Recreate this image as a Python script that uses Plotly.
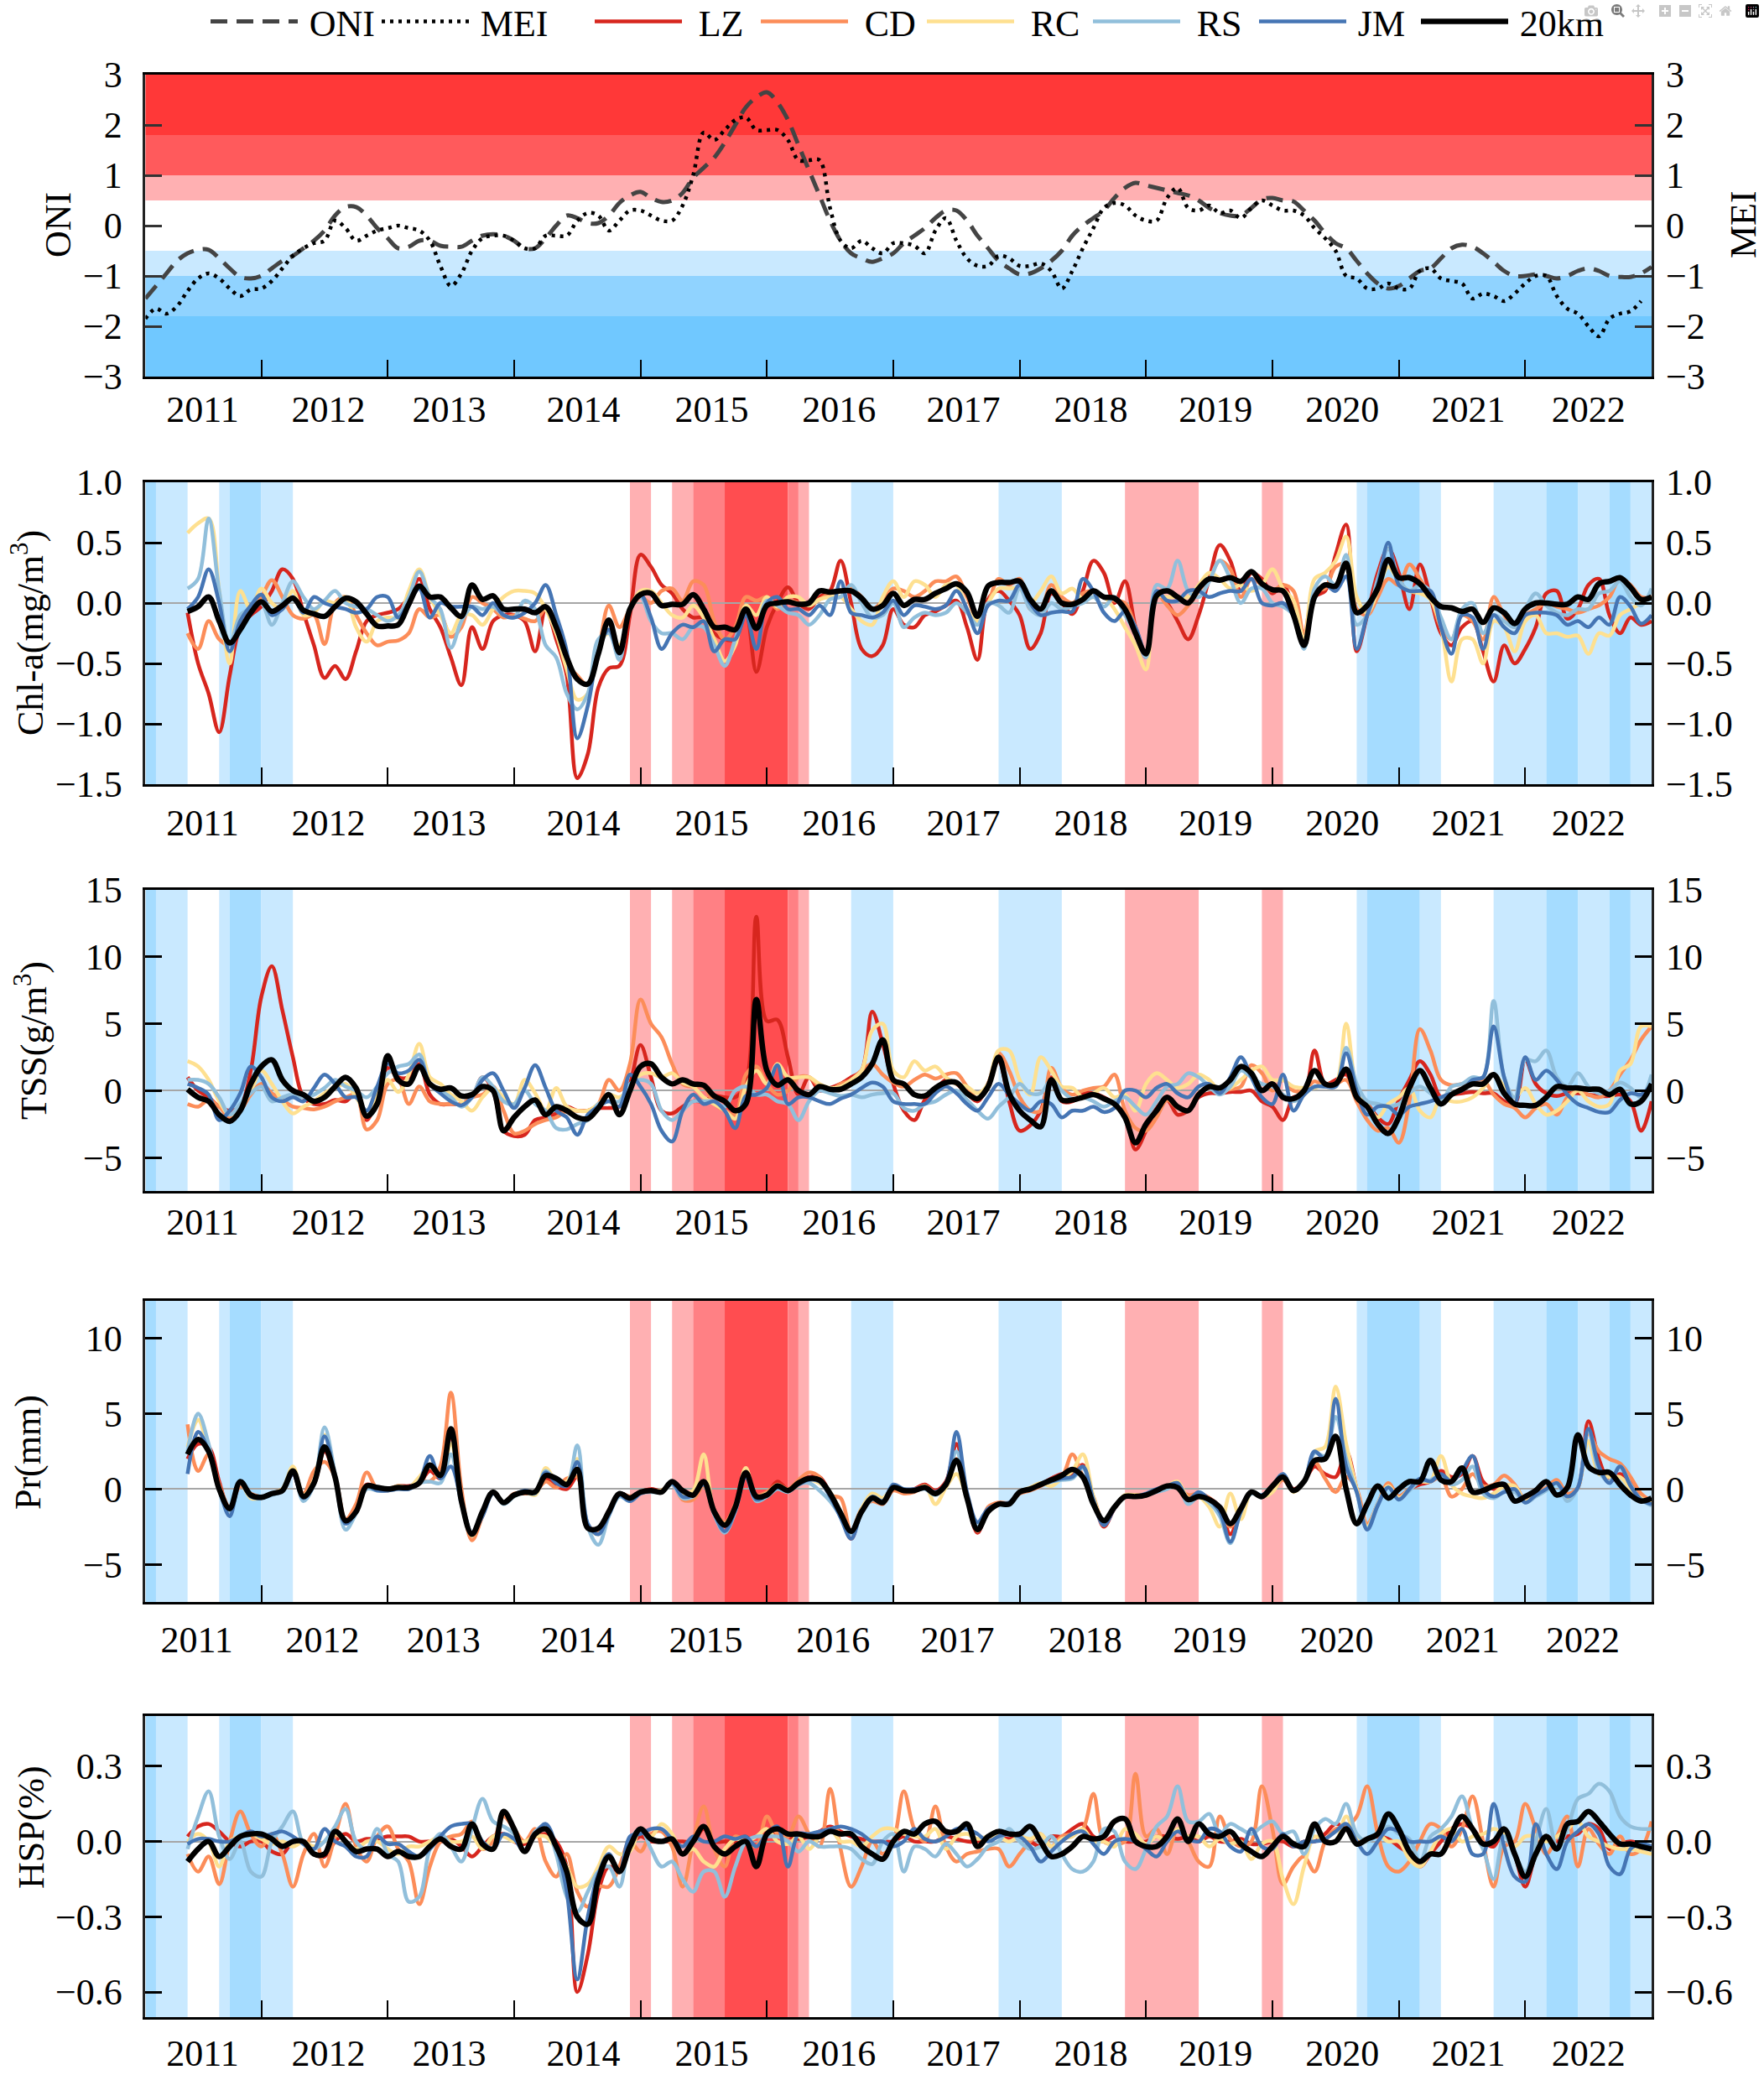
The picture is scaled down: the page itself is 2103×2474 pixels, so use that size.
import numpy as np
import plotly.graph_objects as go

# monthly series start Jun 2011 (month 5) and run to Jan 2023 (month 144)
months = np.arange(5, 145)
oni_months = np.arange(1, 145)
mei_months = np.arange(1, 144)

oni = [-1.45, -1.2, -0.95, -0.7, -0.55, -0.48, -0.48, -0.65, -0.85, -1.02, -1.05,
       -1.0, -0.85, -0.7, -0.6, -0.45, -0.3, -0.1, 0.2, 0.37, 0.37, 0.2, -0.05,
       -0.25, -0.45, -0.42, -0.3, -0.3, -0.4, -0.42, -0.42, -0.3, -0.2, -0.17, -0.2,
       -0.3, -0.45, -0.45, -0.25, 0.0, 0.2, 0.15, 0.05, 0.05, 0.2, 0.45, 0.6,
       0.67, 0.55, 0.47, 0.5, 0.65, 0.95, 1.15, 1.35, 1.65, 2.0, 2.35, 2.55,
       2.65, 2.45, 2.1, 1.6, 1.1, 0.6, 0.1, -0.3, -0.55, -0.65, -0.72, -0.65,
       -0.55, -0.35, -0.2, -0.05, 0.15, 0.3, 0.3, 0.1, -0.2, -0.45, -0.7, -0.85,
       -0.97, -0.95, -0.85, -0.7, -0.5, -0.2, 0.0, 0.15, 0.3, 0.55, 0.75, 0.85,
       0.8, 0.75, 0.7, 0.65, 0.6, 0.5, 0.35, 0.25, 0.2, 0.2, 0.35, 0.52,
       0.55, 0.5, 0.48, 0.3, 0.1, -0.15, -0.35, -0.45, -0.7, -0.95, -1.15, -1.25,
       -1.2, -1.05, -0.9, -0.85, -0.65, -0.45, -0.38, -0.42, -0.55, -0.72, -0.9, -1.0,
       -1.0, -0.97, -1.0, -1.05, -1.0, -0.9, -0.85, -0.9, -1.0, -1.02, -1.02, -0.95,
       -0.82]
mei = [-1.85, -1.65, -1.75, -1.6, -1.3, -1.05, -0.95, -1.05, -1.25, -1.4, -1.27,
       -1.25, -1.1, -0.85, -0.6, -0.45, -0.35, -0.3, 0.1, -0.05, -0.3, -0.2, -0.1,
       -0.05, 0.0, -0.05, -0.1, -0.3, -0.8, -1.2, -0.95, -0.5, -0.25, -0.2, -0.2,
       -0.3, -0.45, -0.45, -0.2, -0.2, -0.2, 0.1, 0.25, 0.2, -0.1, 0.1, 0.3,
       0.3, 0.2, 0.1, 0.1, 0.4, 1.0, 1.85, 1.7, 1.9, 2.1, 2.15, 1.9,
       1.9, 1.9, 1.7, 1.3, 1.3, 1.3, 0.35, -0.3, -0.45, -0.3, -0.45, -0.55,
       -0.35, -0.35, -0.4, -0.55, -0.1, 0.15, -0.3, -0.65, -0.8, -0.8, -0.6, -0.65,
       -0.8, -0.8, -0.75, -0.9, -1.25, -0.9, -0.45, -0.05, 0.35, 0.45, 0.4, 0.2,
       0.1, 0.1, 0.55, 0.75, 0.35, 0.3, 0.4, 0.25, 0.3, 0.15, 0.35, 0.5,
       0.4, 0.3, 0.3, 0.2, -0.05, -0.25, -0.5, -1.0, -1.05, -1.25, -1.25, -1.15,
       -1.25, -1.25, -0.9, -0.85, -1.05, -1.1, -1.15, -1.45, -1.35, -1.4, -1.5, -1.35,
       -1.15, -1.0, -1.0, -1.4, -1.65, -1.75, -2.0, -2.2, -1.85, -1.75, -1.7, -1.5]

chl_lz = [-0.08, -0.5, -0.75, -1.07, -0.6, -0.2, -0.1,
          -0.03, 0.1, 0.28, 0.2, -0.08, -0.35, -0.62, -0.52, -0.63, -0.4, -0.15, -0.1,
          -0.08, -0.05, 0.05, 0.2, -0.05, -0.2, -0.45, -0.68, -0.2, -0.38, -0.15, -0.1,
          -0.1, -0.15, -0.4, -0.05, -0.3, -0.6, -1.45, -1.25, -0.7, -0.54, -0.52, -0.1,
          0.4, 0.3, 0.15, 0.08, -0.05, -0.12, -0.12, -0.25, -0.3, -0.3, -0.08, -0.57,
          -0.2, 0.0, 0.13, 0.0, -0.05, 0.05, 0.1, 0.35, 0.0, -0.38, -0.44, -0.35,
          -0.05, -0.18, -0.2, -0.1, -0.07, -0.02, 0.02, -0.2, -0.47, 0.03, 0.1, 0.02,
          -0.1, -0.38, -0.25, 0.08, 0.0, -0.09, 0.1, 0.35, 0.25, 0.0, 0.18, -0.2,
          -0.45, 0.08, 0.0, -0.15, -0.3, -0.1, 0.2, 0.48, 0.35, 0.1, 0.25, 0.2,
          0.08, 0.15, -0.05, -0.3, 0.05, 0.1, 0.4, 0.65, -0.4, -0.1, 0.25, 0.45,
          0.25, -0.05, 0.32, 0.05, -0.25, -0.35, -0.2, -0.15, -0.4, -0.65, -0.35, -0.5,
          -0.38, -0.2, 0.08, 0.1, -0.13, -0.05, 0.15, 0.2, -0.1, -0.25, -0.12, -0.18,
          -0.15]
chl_cd = [-0.25, -0.38, -0.15, -0.3, -0.35, -0.15, -0.05,
          0.05, 0.19, 0.05, -0.1, -0.13, -0.1, -0.34, 0.0, 0.05, -0.1, -0.25, -0.35,
          -0.32, -0.31, -0.25, -0.05, -0.12, -0.1, -0.28, -0.2, 0.05, 0.0, -0.05, -0.12,
          -0.1, -0.13, -0.15, -0.05, -0.2, -0.5, -0.6, -0.68, -0.4, -0.02, -0.2, -0.05,
          0.05, 0.0, 0.1, 0.12, 0.02, 0.18, 0.15, -0.15, -0.3, -0.2, 0.05, 0.02,
          0.05, -0.05, 0.02, 0.0, -0.02, 0.03, 0.08, 0.1, 0.12, 0.05, -0.05, 0.02,
          0.12, 0.1, 0.05, 0.1, 0.18, 0.18, 0.22, 0.05, -0.12, 0.0, 0.2, 0.15,
          0.2, -0.05, -0.05, 0.15, 0.05, 0.0, 0.08, 0.1, 0.05, 0.02, 0.0, -0.2,
          -0.42, 0.08, -0.02, -0.1, -0.02, 0.1, 0.2, 0.35, 0.28, 0.05, 0.2, 0.15,
          0.1, 0.15, 0.1, -0.25, 0.1, 0.12, 0.3, 0.32, -0.05, -0.1, 0.05, 0.2,
          0.15, 0.32, 0.2, 0.05, -0.2, -0.3, -0.1, -0.15, -0.3, 0.05, -0.1, -0.2,
          -0.1, -0.05, 0.0, -0.03, -0.05, -0.08, -0.05, -0.02, 0.05, 0.2, 0.15, 0.05,
          0.05]
chl_rc = [0.58, 0.66, 0.7, 0.1, -0.5, 0.1, -0.05,
          0.12, 0.0, -0.05, 0.1, -0.1, -0.08, 0.02, 0.0, 0.05, -0.2, -0.32, -0.15,
          -0.12, -0.12, 0.1, 0.28, 0.05, -0.1, -0.25, -0.1, -0.1, -0.18, -0.05, 0.05,
          0.1, 0.1, 0.08, -0.05, -0.25, -0.55, -0.8, -0.75, -0.35, -0.25, -0.35, -0.05,
          0.1, 0.1, 0.0, -0.1, -0.12, -0.02, -0.12, -0.3, -0.48, -0.35, -0.02, -0.1,
          0.05, -0.03, 0.05, 0.05, -0.02, 0.03, 0.05, 0.05, -0.05, -0.15, -0.18, 0.05,
          0.18, 0.05, 0.18, 0.15, 0.05, 0.15, 0.15, -0.05, -0.15, 0.0, 0.12, 0.12,
          0.12, 0.0, 0.1, 0.22, 0.08, 0.12, 0.03, 0.05, 0.05, -0.05, -0.2, -0.35,
          -0.55, 0.05, 0.05, 0.05, 0.05, 0.15, 0.25, 0.2, 0.12, 0.15, 0.1, 0.15,
          0.28, 0.12, 0.02, -0.3, 0.2, 0.25, 0.35, 0.55, 0.05, -0.08, 0.1, 0.3,
          0.18, 0.1, 0.08, 0.03, -0.2, -0.65, -0.3, -0.3, -0.5, -0.15, -0.2, -0.4,
          -0.15, -0.1, -0.25, -0.25, -0.28, -0.27, -0.42, -0.25, -0.27, -0.1, -0.05, 0.0,
          0.05]
chl_rs = [0.12, 0.2, 0.7, 0.1, -0.35, -0.1, -0.05,
          0.0, -0.18, 0.0, 0.18, 0.05, -0.05, 0.02, 0.1, 0.0, -0.03, -0.05, -0.1,
          -0.15, -0.1, 0.05, 0.26, 0.05, -0.05, -0.37, -0.15, -0.03, -0.05, -0.03, -0.1,
          -0.12, 0.02, -0.05, -0.35, -0.45, -0.75, -0.88, -0.75, -0.3, -0.25, -0.47, -0.05,
          0.05, -0.15, -0.25, -0.25, -0.3, -0.2, -0.2, -0.35, -0.52, -0.3, -0.05, -0.2,
          0.02, -0.02, -0.08, -0.1, -0.18, -0.1, 0.03, 0.05, 0.15, 0.0, -0.12, -0.1,
          0.0, -0.2, -0.12, -0.08, -0.1, -0.08, 0.0, -0.08, -0.18, 0.0, -0.02, -0.08,
          0.12, -0.05, -0.1, 0.0, -0.05, -0.03, 0.0, 0.05, -0.03, 0.05, -0.1, -0.25,
          -0.45, 0.15, 0.12, 0.35, 0.1, 0.05, 0.18, 0.35, 0.2, 0.0, 0.12, 0.12,
          0.0, -0.03, -0.1, -0.38, 0.12, 0.22, 0.15, 0.4, -0.18, -0.1, 0.2, 0.45,
          0.2, 0.1, 0.15, 0.1, -0.12, -0.3, -0.05, 0.0, -0.25, -0.1, -0.15, -0.2,
          -0.05, 0.08, -0.02, -0.08, -0.1, -0.05, -0.05, 0.08, 0.1, 0.18, 0.05, -0.02,
          0.12]
chl_jm = [-0.05, 0.05, 0.28, 0.0, -0.4, -0.15, -0.02,
          0.07, -0.1, -0.05, 0.05, -0.08, 0.05, 0.0, -0.03, -0.05, -0.08, -0.05, 0.05,
          0.05, -0.12, 0.0, 0.12, -0.12, 0.0, -0.03, -0.03, -0.03, -0.1, 0.0, -0.1,
          -0.12, -0.08, 0.0, 0.15, -0.1, -0.4, -1.12, -0.85, -0.4, -0.22, -0.42, -0.05,
          0.07, -0.12, -0.38, -0.25, -0.18, -0.2, -0.15, -0.4, -0.3, -0.3, -0.1, -0.38,
          0.0, 0.05, -0.05, -0.05, -0.1, -0.02, -0.1, 0.18, -0.08, -0.1, -0.12, -0.08,
          0.02, -0.1, -0.02, -0.03, -0.05, -0.02, 0.1, -0.05, -0.25, -0.02, 0.02, 0.02,
          0.15, 0.0, -0.1, -0.08, -0.07, -0.07, 0.2, 0.1, -0.08, -0.15, -0.07, -0.2,
          -0.42, 0.1, 0.02, 0.02, 0.1, 0.1, 0.05, 0.08, 0.1, 0.1, 0.2, 0.0,
          -0.02, 0.0, -0.1, -0.33, 0.05, 0.15, 0.1, 0.22, -0.38, -0.1, 0.15, 0.5,
          0.15, 0.1, 0.1, 0.1, -0.2, -0.42, -0.1, -0.12, -0.38, -0.1, -0.2, -0.25,
          -0.1, -0.08, -0.08, -0.1, -0.18, -0.15, -0.2, -0.12, -0.18, 0.05, -0.03, -0.17,
          -0.1]
chl_20km = [-0.07, -0.03, 0.05, -0.15, -0.33, -0.22, -0.08,
            0.01, -0.07, -0.02, 0.04, -0.06, -0.09, -0.11, -0.03, 0.04, 0.01, -0.09, -0.19,
            -0.19, -0.18, -0.01, 0.14, 0.05, 0.05, -0.04, -0.11, 0.15, 0.03, 0.06, -0.05,
            -0.05, -0.05, -0.08, -0.03, -0.2, -0.45, -0.63, -0.67, -0.42, -0.14, -0.41, -0.05,
            0.07, 0.08, -0.02, -0.01, -0.01, 0.07, -0.05, -0.2, -0.2, -0.22, -0.05, -0.21,
            -0.02, 0.0, 0.01, -0.01, 0.0, 0.1, 0.09, 0.1, 0.1, 0.04, -0.05, -0.02,
            0.08, -0.02, 0.03, 0.03, 0.08, 0.12, 0.16, 0.09, -0.11, 0.14, 0.17, 0.17,
            0.18, 0.03, -0.05, 0.1, 0.0, -0.01, 0.03, 0.1, 0.05, 0.04, -0.05, -0.25,
            -0.42, 0.06, 0.1, 0.05, 0.0, 0.12, 0.2, 0.19, 0.21, 0.18, 0.26, 0.16,
            0.11, 0.1, -0.1, -0.35, 0.05, 0.15, 0.14, 0.33, -0.08, -0.02, 0.12, 0.36,
            0.21, 0.21, 0.16, 0.05, -0.03, -0.04, -0.07, -0.05, -0.16, -0.04, -0.08, -0.17,
            -0.05, 0.0, 0.0, -0.01, -0.01, 0.05, 0.03, 0.16, 0.18, 0.21, 0.13, 0.03,
            0.05]

tss_lz = [1.0, 0.0, -0.5, -1.2, -1.5, -1.2, 1.5,
          7.0, 9.3, 6.0, 2.5, -0.5, -1.0, -1.0, -0.7, -0.8, -0.2, -2.2, -0.5,
          1.7, 1.0, 1.0, 2.0, -0.3, -1.0, -1.0, -1.0, -0.5, 1.0, 0.0, -3.0,
          -3.4, -3.3, -2.2, -2.0, -1.7, -1.2, -1.5, -1.5, -1.3, -1.3, -1.2, 0.5,
          3.4, 1.0, -1.5, -1.7, -1.2, -0.8, -0.8, -0.4, -0.5, -0.5, 0.5, 13.0,
          5.2, 5.3, 2.5, -0.3, 1.0, 0.0, 0.2, 0.5, 1.0, 1.5, 5.9, 3.5,
          0.5, -1.5, -2.2, -0.7, 0.0, 0.8, 0.5, -0.2, -0.8, 0.5, 2.2, -0.8,
          -3.0, -2.6, -1.5, 1.0, -0.8, -0.8, -0.2, -0.2, -0.5, -1.0, -1.8, -4.4,
          -3.0, -1.3, -0.7, -1.8, -1.5, -0.5, -0.2, -0.2, -0.1, -0.1, 0.0, -0.8,
          -1.2, -2.2, -0.5, -0.3, 3.0, 0.5, 0.8, 1.2, -0.5, -1.0, -2.0, -2.5,
          -0.7, 0.8, 2.2, 1.2, -0.5, -0.3, -0.2, -0.1, -0.2, -0.2, -0.8, -1.0,
          2.3, 0.5, -0.2, -0.4, -0.2, -0.2, -0.3, -0.4, -0.4, -0.3, -0.8, -3.0,
          -0.8]
tss_cd = [-1.0, -1.2, -0.7, -1.2, -2.0, -1.5, -0.3,
          0.5, -0.2, -0.7, -1.2, -1.3, -1.4, -1.2, -0.8, -0.5, -0.3, -2.9, -2.2,
          0.5, 0.8, -1.0, 0.3, -0.8, -1.0, -1.0, -1.0, -0.5, -0.3, 0.3, -1.5,
          -3.2, -3.0, -2.5, -2.2, -2.0, -1.5, -1.5, -1.5, -1.0, 0.8, 0.0, 2.0,
          6.8, 5.0, 4.0, 2.0, 0.5, 0.3, 0.3, -1.0, -1.5, -1.8, 1.2, 1.8,
          0.5, -0.3, 0.0, 1.0, 1.0, 0.3, 0.0, 0.5, 0.8, 1.5, 2.0, 1.2,
          0.6, 0.3, 0.8, 1.2, 0.9, 1.2, 1.3, 0.3, -0.6, 0.5, 2.8, 1.5,
          -0.5, -1.5, -1.5, 1.7, 0.2, -0.3, 0.0, 0.2, 0.3, 1.2, -1.5, -2.8,
          -3.0, -2.0, -0.7, -1.3, -1.5, -0.2, 0.2, 0.0, 0.1, 0.3, 1.9, 1.3,
          0.0, 0.8, 0.0, 0.0, 0.7, 0.3, 0.5, 0.8, -0.8, -2.2, -3.0, -2.8,
          -3.9, -0.8, 4.6, 3.0, 0.8, 0.4, 0.5, 0.7, 0.8, -0.3, -1.0, -1.3,
          -2.0, -1.3, -1.0, -1.8, -0.5, 0.0, -0.3, -0.5, 0.0, 1.2, 2.3, 3.8,
          4.8]
tss_rc = [2.2, 1.8, 0.8, -0.8, -1.8, -1.3, 0.0,
          1.5, 0.5, -0.8, -1.7, -1.2, -0.8, -0.2, 0.2, 0.5, -0.5, -1.5, -0.3,
          0.8, -0.1, 1.2, 3.5, 1.0, 0.5, -0.3, -0.8, -1.5, -0.5, 0.2, -0.5,
          -1.0, 0.8, -0.2, -1.5, 0.2, -1.2, -1.5, -1.5, -1.0, -0.3, -0.5, 0.2,
          1.2, 1.3, 1.0, 1.3, 0.6, 0.3, -0.5, -1.0, -1.5, -2.1, 0.3, 1.5,
          0.5, 2.0, 1.0, 1.0, 1.0, 0.5, 0.2, 0.3, 0.8, 1.5, 4.5, 5.0,
          1.5, 1.0, 2.2, 1.5, 1.8, 1.0, 0.5, 0.3, -0.2, 0.5, 3.0, 3.0,
          0.8, -0.3, 2.5, 1.5, 0.3, 0.2, -0.5, -0.2, 0.2, -0.5, -0.3, -1.5,
          0.5, 1.3, 0.8, 0.2, 0.5, 1.2, 0.8, 0.0, 0.2, 0.8, 1.5, 1.8,
          0.8, 0.8, 0.3, 0.2, 0.2, 0.5, 0.5, 5.0, 0.2, -1.0, -2.0, -1.0,
          -0.5, 0.2, -1.5, -2.0, -0.5, -0.8, -0.8, -0.5, 0.2, 1.2, 0.3, -0.5,
          0.2, -1.0, -1.8, -1.5, -0.8, 0.0, -0.8, -1.2, -1.0, 1.5, 2.0, 4.8,
          4.8]
tss_rs = [0.8, 0.8, 0.5, -0.5, -1.8, -1.0, -0.2,
          0.3, -0.8, -0.5, -0.3, -0.5, -0.3, 0.2, 0.8, 0.3, 0.0, -0.5, 0.3,
          1.3, 1.8, 2.0, 2.7, 0.5, 0.0, -0.5, -1.2, -0.5, 1.0, 0.3, -0.8,
          -1.0, 0.0, -1.0, -1.5, -2.8, -2.9, -2.5, -2.2, -1.0, -0.8, -0.8, 0.5,
          0.8, 0.5, -1.5, -2.2, -1.5, -0.8, -0.8, -0.8, -1.2, 0.0, 0.3, -0.3,
          -0.3, -0.8, -1.0, -2.2, -0.8, 0.0, -0.2, -0.4, -0.3, -0.5, -0.3, -0.2,
          -0.2, -1.3, -1.5, -1.0, -0.8, -0.3, 0.0, -0.7, -1.5, -2.1, -1.2, -0.5,
          0.5, -0.2, -0.2, 0.8, 0.0, -0.6, -0.5, -0.8, -1.2, -0.8, -0.5, -1.2,
          -1.8, -0.8, 0.3, 0.5, 1.3, 1.0, 0.3, -0.3, 0.3, 1.5, 1.0, 0.5,
          0.3, -0.3, -0.8, -0.3, 0.3, 0.3, 0.3, 3.2, 0.5, -0.8, -1.0, -1.2,
          -1.0, -0.2, 0.3, -0.2, -0.8, 0.3, 0.5, 1.0, 1.0, 6.7, 1.0, -0.5,
          2.3, 2.2, 3.0, 1.0, 0.3, 1.3, 0.3, -0.2, 0.0, 0.6, 0.2, -0.5,
          1.2]
tss_jm = [0.5, 0.2, -0.3, -2.2, -1.5, -0.2, 1.8,
          1.0, -0.5, -0.8, -0.5, -0.8, 0.2, 1.2, 0.5, -0.5, -0.5, -1.5, 0.3,
          2.0, 1.3, 1.5, 2.3, 0.5, -0.2, -0.8, -1.1, -0.5, 0.8, 1.3, 0.0,
          -1.3, 0.2, 1.9, 0.2, -1.5, -2.0, -3.3, -1.8, -1.2, -0.8, -1.2, 1.2,
          0.3, -1.0, -3.0, -3.8, -1.5, -0.3, -1.0, -0.8, -1.5, -2.8, -0.4, -0.3,
          0.2, 1.9, -1.0, -0.5, -0.5, -0.8, -1.0, -0.6, -0.3, 0.2, 0.6, 0.3,
          -0.8, -1.0, -1.0, -1.0, -0.2, 0.3, -0.2, -1.0, -1.5, -0.5, 0.5, -0.3,
          -1.0, -1.5, -0.8, -1.0, -2.0, -1.5, -1.5, -1.2, -1.6, -1.3, 0.0, 0.0,
          -0.5, 0.2, 0.5, -0.2, -0.5, 0.3, 0.5, -0.2, 1.0, 2.5, 1.0, -0.5,
          -1.0, 1.2, -1.5, -0.3, 0.3, 0.3, 0.3, 2.8, 0.0, -1.8, -1.2, -1.2,
          -1.8, -1.2, -1.0, -0.8, -0.5, -0.2, 0.0, 0.8, 1.0, 4.8, 1.0, -1.0,
          2.5, 0.8, 1.5, 0.8, -0.3, -1.0, -1.3, -1.6, -1.6, -0.7, -0.2, -0.3,
          0.5]
tss_20km = [0.1, -0.5, -0.8, -1.8, -2.3, -1.5, 0.5,
            1.8, 2.3, 0.8, 0.0, -0.3, -0.8, -0.5, 0.3, 1.0, 0.2, -1.9, -1.0,
            2.6, 0.8, 0.5, 1.8, 0.5, 0.1, 0.2, -0.4, -0.3, 0.3, 0.0, -3.0,
            -2.0, -1.2, -0.7, -1.8, -1.2, -1.5, -2.0, -2.1, -1.3, -0.3, -1.8, 0.0,
            1.8, 2.0, 1.0, 0.5, 0.8, 0.5, 0.4, -0.4, -0.8, -1.5, -1.0, 6.8,
            1.5, 0.4, 0.8, 0.0, -0.3, 0.3, 0.1, 0.1, 0.5, 1.0, 2.0, 3.8,
            0.8, 0.5, -0.3, -0.4, 0.2, 0.6, 0.6, -0.2, -0.6, 0.3, 2.5, -0.2,
            -1.5, -2.2, -2.7, 0.8, -0.7, -0.7, -0.5, -0.3, -0.6, -1.0, -2.0, -3.9,
            -2.5, -1.5, -0.5, -1.2, -1.5, -0.3, 0.3, 0.2, 0.8, 1.8, 1.3, 0.0,
            0.5, -0.5, -0.6, 0.0, 1.5, 0.5, 0.5, 1.6, -0.5, -1.2, -2.5, -3.2,
            -2.0, 0.2, 1.5, 0.2, -1.0, -0.3, 0.1, 0.5, 0.5, 1.2, -0.2, -1.0,
            -1.1, -1.1, -0.5, 0.3, 0.2, 0.2, 0.1, 0.1, -0.3, 0.1, -1.0, -0.8,
            0.5]

pr_lz = [2.0, 3.0, 2.8, 0.5, -1.5, 0.4, -0.5,
         -0.6, -0.3, -0.1, 1.0, -0.5, 0.3, 2.5, 0.7, -2.1, -1.5, 0.3, 0.1,
         0.0, 0.2, 0.2, 0.4, 1.2, 0.7, 3.5, -0.9, -3.0, -1.5, -0.2, -0.9,
         -0.4, -0.2, -0.2, 0.7, 0.2, 0.0, 0.8, -2.4, -2.8, -1.4, -0.3, -0.6,
         -0.2, 0.0, -0.1, 0.4, -0.2, -0.4, 0.3, -1.5, -2.4, -1.2, 0.9, -0.5,
         -0.3, 0.5, 0.0, 0.5, 0.8, 0.8, -0.3, -1.7, -3.3, -1.4, -0.6, -0.8,
         0.1, -0.1, 0.0, 0.3, -0.1, 0.5, 3.0, -0.5, -2.9, -1.4, -1.0, -1.0,
         -0.2, 0.0, 0.3, 0.7, 1.0, 1.0, 1.6, -0.6, -2.5, -1.3, -0.5, -0.5,
         -0.4, -0.1, 0.2, 0.2, -0.6, -0.3, -0.6, -1.2, -3.0, -1.3, -0.2, -0.5,
         0.1, 0.8, 0.0, 0.5, 1.5, 1.0, 0.8, 2.5, 0.0, -2.5, -1.0, 0.2,
         -0.5, 0.0, 0.3, 0.5, 1.2, 0.8, 1.0, 2.2, 0.5, 0.0, 0.2, 0.2,
         -0.8, -0.4, 0.0, 0.5, -0.5, 0.1, 4.5, 2.0, 0.5, 1.0, 0.5, -0.4,
         -0.8]
pr_cd = [4.3, 1.2, 2.3, 0.3, -1.2, 0.2, -0.3,
         -0.5, -0.3, 0.0, 1.1, -0.3, 1.2, 1.8, 0.8, -2.0, -1.0, 1.1, 0.0,
         -0.1, 0.2, 0.1, 0.6, 0.5, 1.5, 6.4, 0.0, -3.4, -1.8, -0.2, -0.9,
         -0.3, -0.3, -0.2, 0.5, 0.1, 0.7, 0.8, -2.4, -2.8, -1.6, -0.3, -0.5,
         -0.3, -0.1, -0.1, 0.4, -0.7, -0.7, 0.2, -1.4, -2.2, -1.0, 0.8, -0.4,
         -0.2, 0.3, 0.0, 0.6, 1.1, 0.8, -0.4, -0.6, -2.8, -1.3, -0.8, -1.0,
         -0.1, -0.3, -0.2, 0.2, -0.2, 0.3, 2.0, -0.3, -2.8, -1.2, -0.9, -0.9,
         -0.3, -0.1, 0.2, 0.6, 0.8, 2.3, 0.8, -0.5, -2.3, -1.3, -0.5, -0.4,
         -0.4, -0.1, 0.2, 0.1, -0.4, -0.3, -0.6, -1.3, -2.5, -1.3, -0.2, -0.5,
         -0.1, 0.6, -0.1, 0.5, 1.8, 0.7, -0.2, 0.8, 0.0, -2.3, -1.0, 0.4,
         -0.5, 0.0, 0.5, 0.5, 0.8, -0.5, 0.0, 1.0, 0.2, 0.3, 0.9, 0.3,
         -0.7, -0.3, 0.1, 0.6, -0.3, 0.1, 3.7, 2.5, 2.0, 1.7, 0.8, -0.3,
         -0.8]
pr_rc = [2.8, 4.6, 2.5, 0.0, -1.4, 0.4, -0.6,
         -0.6, -0.3, 0.0, 1.5, -0.4, 0.6, 3.6, 0.8, -2.1, -1.5, 0.2, 0.1,
         0.0, 0.2, 0.1, 0.8, 1.5, 0.8, 3.0, -0.8, -3.1, -1.5, -0.2, -0.9,
         -0.5, -0.2, -0.4, 1.4, 0.5, 0.5, 2.0, -2.4, -3.0, -1.5, -0.4, -0.6,
         -0.2, -0.1, -0.1, 0.4, -0.3, -0.1, 2.3, -1.5, -2.3, -1.2, 1.4, -0.5,
         -0.3, 0.1, -0.1, 0.3, 0.6, 0.4, -0.2, -1.5, -2.8, -1.3, -0.3, -0.6,
         0.1, -0.1, -0.1, 0.2, -1.0, 0.1, 1.0, -0.6, -2.6, -1.4, -1.0, -1.0,
         -0.2, 0.1, 0.4, 0.2, 0.7, 1.2, 2.3, -0.5, -2.2, -1.2, -0.4, -0.4,
         -0.4, -0.1, 0.2, 0.5, -0.6, -0.5, -1.2, -2.5, -0.3, -2.0, -0.2, -0.5,
         -0.2, 0.8, -0.2, 0.5, 2.5, 2.8, 6.8, 3.0, 0.0, -2.5, -1.0, 0.2,
         -0.6, 0.0, 0.5, 0.5, 2.2, 0.3, -0.3, -0.5, -0.6, -0.3, 0.2, 0.2,
         -0.8, -0.4, 0.0, 0.4, -0.6, 0.1, 3.2, 1.0, 0.8, 0.8, 0.0, -0.6,
         -0.9]
pr_rs = [2.5, 5.0, 3.0, 0.0, -1.5, 0.4, -0.5,
         -0.6, -0.4, -0.1, 1.1, -0.8, 0.3, 4.1, 1.0, -2.7, -1.6, 0.0, -0.1,
         -0.1, 0.0, 0.0, 0.4, 0.5, 0.4, 2.3, -1.0, -3.0, -1.6, -0.2, -1.0,
         -0.5, -0.2, -0.3, 1.2, 0.5, 0.3, 2.9, -2.5, -3.7, -1.8, -0.5, -0.8,
         -0.3, -0.2, -0.2, 0.3, -0.6, -0.5, 0.4, -1.7, -2.9, -1.5, 0.9, -0.8,
         -0.5, 0.0, -0.2, 0.3, 0.4, -0.1, -0.8, -1.8, -3.0, -1.6, -0.7, -0.8,
         0.2, 0.0, -0.1, 0.0, -0.4, 0.3, 2.5, -0.5, -2.5, -1.4, -1.0, -1.0,
         -0.2, 0.0, 0.3, 0.5, 0.6, 0.7, 1.4, -0.8, -2.4, -1.2, -0.5, -0.5,
         -0.4, -0.2, 0.0, 0.3, -1.0, -0.5, -0.9, -1.8, -3.6, -1.5, -0.3, -0.5,
         0.2, 1.0, -0.1, 0.5, 2.4, 2.2, 4.8, 2.0, -0.2, -2.6, -1.0, 0.1,
         -0.7, -0.1, 0.5, 0.6, 0.9, 0.3, 0.6, 1.5, -0.3, -0.6, -0.2, -0.2,
         -0.9, -0.5, -0.1, 0.4, -0.8, 0.1, 3.9, 1.2, 0.5, 1.5, 0.3, -0.7,
         -1.1]
pr_jm = [1.0, 3.8, 2.5, 0.0, -1.8, 0.5, -0.5,
         -0.6, -0.3, -0.1, 1.0, -0.6, 0.3, 3.5, 0.8, -2.3, -1.5, 0.2, -0.1,
         -0.1, 0.0, 0.0, 0.5, 2.2, 0.7, 1.5, -0.8, -2.9, -1.8, -0.3, -0.9,
         -0.4, -0.1, -0.2, 1.1, 0.4, 0.2, 1.8, -2.3, -3.0, -1.7, -0.4, -0.8,
         -0.3, -0.1, -0.2, 0.4, -0.5, -0.4, 0.3, -1.6, -2.8, -1.4, 0.8, -0.7,
         -0.4, 0.1, -0.1, 0.3, 0.6, 0.5, -0.5, -1.9, -3.3, -1.5, -0.5, -0.8,
         0.3, 0.0, 0.0, 0.1, -0.2, 0.4, 3.8, -0.2, -2.2, -1.3, -1.0, -0.9,
         -0.2, 0.0, 0.3, 0.5, 0.7, 0.8, 1.5, -0.7, -2.4, -1.3, -0.5, -0.5,
         -0.3, 0.0, 0.2, 0.4, -0.7, -0.2, -0.7, -1.5, -3.5, -1.5, -0.2, -0.4,
         0.2, 1.0, -0.1, 0.5, 2.5, 2.0, 6.0, 1.5, -0.2, -2.7, -1.1, 0.1,
         -0.7, 0.0, 0.7, 0.5, 1.0, 0.5, 1.2, 2.2, 0.0, -0.5, -0.2, 0.0,
         -0.9, -0.4, 0.0, 0.4, -0.5, 0.1, 4.0, 1.5, 0.4, 1.5, 0.2, -0.7,
         -1.0]
pr_20km = [2.3, 3.3, 2.5, 0.0, -1.3, 0.5, -0.4,
           -0.55, -0.3, -0.1, 1.2, -0.5, 0.4, 2.8, 0.8, -2.1, -1.5, 0.2, 0.1,
           0.0, 0.1, 0.1, 0.4, 1.6, 0.9, 4.0, -0.8, -3.0, -1.5, -0.2, -0.9,
           -0.4, -0.2, -0.2, 0.9, 0.7, 0.3, 1.3, -2.6, -2.6, -1.5, -0.3, -0.6,
           -0.2, -0.1, -0.2, 0.5, -0.1, -0.4, 0.5, -1.5, -2.4, -1.2, 1.1, -0.5,
           -0.4, 0.2, -0.1, 0.4, 0.7, 0.6, -0.3, -1.6, -2.8, -1.5, -0.6, -0.9,
           0.1, -0.1, -0.1, 0.1, -0.3, 0.3, 1.9, -0.6, -2.7, -1.5, -1.0, -1.0,
           -0.2, 0.0, 0.3, 0.6, 0.9, 1.3, 0.8, -1.0, -2.1, -1.2, -0.5, -0.5,
           -0.4, -0.1, 0.2, 0.1, -0.7, -0.5, -0.7, -1.2, -2.3, -1.3, -0.2, -0.5,
           0.2, 0.8, -0.1, 0.5, 1.9, 2.0, 3.5, 0.0, -2.3, -1.0, 0.2, -0.6,
           0.0, 0.5, 0.5, 1.9, 0.6, 0.5, 1.4, -0.2, -0.1, 0.2, 0.3, -0.8,
           -0.5, -0.1, 0.5, -0.4, 0.1, 3.6, 1.5, 1.1, 1.1, 0.3, -0.4, -0.8,
           -0.6]

hsp_lz = [0.02, 0.06, 0.07, 0.04, 0.0, -0.02, 0.0,
          0.0, -0.04, -0.05, 0.0, 0.0, -0.05, -0.06, 0.0, 0.03, 0.0, 0.01, 0.01,
          0.02, 0.02, 0.02, 0.0, 0.0, 0.0, 0.01, -0.02, -0.06, -0.02, 0.02, 0.03,
          0.0, -0.01, 0.02, 0.03, 0.0, -0.1, -0.6, -0.45, -0.2, -0.1, -0.12, -0.02,
          0.02, 0.0, 0.0, 0.0, 0.0, 0.0, 0.05, 0.0, 0.0, 0.0, 0.02, -0.02,
          0.02, 0.03, 0.02, 0.01, 0.02, 0.04, 0.06, 0.04, 0.02, 0.01, 0.0, 0.0,
          0.0, 0.02, 0.0, 0.0, 0.0, 0.02, 0.01, 0.0, 0.0, 0.02, 0.02, 0.01,
          0.02, 0.0, -0.02, 0.02, 0.02, 0.05, 0.07, 0.02, 0.0, 0.02, 0.0, 0.0,
          0.0, 0.02, 0.02, 0.01, 0.02, 0.0, 0.02, 0.0, 0.0, 0.01, -0.01, -0.01,
          0.0, 0.0, -0.02, 0.0, 0.0, 0.03, 0.07, 0.05, 0.0, 0.01, 0.02, 0.01,
          -0.02, -0.05, -0.1, -0.05, 0.0, 0.05, 0.07, 0.05, 0.0, -0.02, 0.05, -0.05,
          -0.18, -0.05, 0.02, 0.0, 0.02, 0.03, 0.07, 0.05, -0.03, -0.01, 0.0, -0.01,
          -0.02]
hsp_cd = [-0.05, -0.12, -0.06, -0.17, 0.0, 0.12, 0.03,
          -0.02, 0.03, -0.05, -0.18, -0.05, 0.03, -0.1, 0.02, 0.15, -0.02, -0.08, 0.02,
          0.06, -0.03, -0.08, -0.25, -0.1, 0.0, 0.02, 0.03, 0.08, -0.03, 0.0, 0.1,
          0.05, 0.0, 0.05, -0.08, -0.14, -0.05, -0.2, -0.26, -0.18, -0.18, -0.1, 0.0,
          -0.04, 0.03, 0.04, -0.02, -0.18, 0.0, 0.14, -0.03, -0.1, 0.02, 0.0, -0.02,
          0.1, 0.03, 0.02, 0.1, 0.03, -0.02, 0.21, -0.03, -0.18, -0.1, 0.0, -0.05,
          0.0, 0.2, 0.05, 0.0, 0.14, -0.02, -0.08, -0.05, -0.04, -0.03, -0.03, -0.1,
          -0.05, 0.0, 0.03, -0.02, 0.02, 0.03, 0.05, 0.19, 0.0, -0.01, 0.0, 0.27,
          0.02, 0.05, -0.05, 0.05, 0.0, -0.08, -0.1, 0.1, 0.01, -0.02, 0.0, 0.22,
          0.05, -0.17, -0.1, -0.06, -0.12, 0.0, 0.05, 0.06, 0.1, 0.22, 0.03, -0.1,
          -0.12, -0.08, 0.0, 0.07, 0.05, -0.02, 0.05, 0.18, 0.0, -0.18, -0.02, 0.0,
          0.15, 0.05, -0.05, 0.02, 0.1, -0.1, 0.05, -0.01, -0.05, 0.02, -0.05, -0.03,
          0.08]
hsp_rc = [0.0, 0.03, 0.0, -0.1, 0.0, 0.02, 0.03,
          0.01, -0.01, 0.0, -0.02, 0.0, -0.02, 0.0, 0.03, 0.0, -0.03, 0.0, 0.0,
          -0.03, -0.05, -0.02, -0.02, 0.0, 0.02, 0.0, 0.0, 0.02, -0.03, 0.02, 0.02,
          0.0, 0.0, 0.02, 0.02, -0.03, -0.1, -0.18, -0.17, -0.1, -0.02, -0.05, -0.04,
          0.05, 0.02, 0.07, 0.03, -0.05, -0.03, -0.08, -0.1, -0.03, 0.01, 0.0, 0.02,
          0.05, 0.0, -0.01, 0.02, -0.03, 0.02, 0.05, 0.0, 0.0, -0.02, 0.02, 0.05,
          0.05, 0.03, 0.02, 0.02, 0.05, -0.03, 0.02, 0.03, 0.01, 0.02, 0.02, 0.0,
          0.02, 0.01, 0.03, -0.02, 0.01, 0.02, 0.05, 0.0, 0.0, -0.02, 0.05, 0.03,
          -0.01, 0.02, 0.0, 0.05, 0.02, 0.02, -0.02, 0.01, -0.01, 0.0, -0.07, -0.01,
          0.0, -0.15, -0.25, -0.1, 0.02, 0.0, 0.0, 0.1, 0.02, 0.0, 0.03, 0.0,
          0.0, -0.07, -0.1, -0.04, 0.03, 0.05, 0.0, 0.02, 0.03, 0.05, 0.03, -0.02,
          0.02, 0.02, 0.0, 0.02, 0.05, 0.08, 0.02, 0.0, -0.02, -0.03, -0.03, -0.04,
          -0.05]
hsp_rs = [-0.03, 0.1, 0.2, 0.02, -0.07, 0.0, -0.12,
          -0.14, 0.0, 0.06, 0.12, -0.01, -0.03, 0.0, 0.06, 0.13, 0.0, -0.03, 0.05,
          -0.05, -0.08, -0.24, -0.22, -0.03, 0.03, -0.02, -0.08, 0.05, 0.17, 0.08, 0.06,
          0.03, -0.04, 0.04, 0.06, -0.05, -0.22, -0.28, -0.2, -0.12, -0.1, -0.18, 0.0,
          0.05, -0.03, -0.1, -0.08, -0.15, -0.2, -0.12, -0.12, -0.22, -0.1, 0.0, 0.02,
          0.02, 0.02, 0.0, -0.04, 0.0, -0.02, -0.02, -0.02, -0.03, -0.07, -0.09, 0.0,
          0.03, -0.12, -0.02, -0.03, -0.06, -0.01, -0.05, -0.1, -0.07, -0.02, 0.0, 0.05,
          0.0, -0.03, -0.02, 0.02, -0.05, -0.11, -0.12, -0.08, 0.05, 0.04, -0.08, -0.11,
          -0.03, 0.06, 0.1, 0.22, 0.08, 0.08, 0.11, 0.03, 0.07, 0.05, 0.03, 0.06,
          0.08, 0.03, 0.04, -0.05, 0.05, 0.09, 0.07, 0.15, 0.03, 0.0, 0.03, 0.06,
          0.03, 0.01, -0.08, 0.02, 0.05, 0.1, 0.18, 0.05, -0.03, -0.15, 0.02, -0.05,
          -0.12, 0.0, 0.13, -0.02, 0.05, 0.17, 0.19, 0.23, 0.2, 0.1, 0.06, 0.05,
          0.05]
hsp_jm = [-0.01, 0.01, 0.01, 0.0, 0.0, 0.02, 0.04,
          0.02, 0.03, 0.04, 0.02, -0.01, -0.03, 0.05, 0.0, -0.02, -0.06, -0.06, 0.02,
          -0.01, -0.01, -0.04, -0.06, -0.03, 0.02, 0.06, 0.07, 0.07, 0.0, -0.03, 0.03,
          0.01, -0.04, 0.03, 0.07, -0.02, -0.2, -0.55, -0.3, -0.13, -0.05, -0.12, 0.02,
          0.03, 0.05, 0.05, 0.01, -0.02, 0.02, 0.0, 0.0, 0.02, 0.01, 0.02, -0.02,
          0.03, 0.06, -0.1, 0.03, 0.03, 0.04, 0.05, 0.06, 0.05, 0.03, 0.0, 0.0,
          -0.02, 0.0, 0.05, 0.01, 0.0, 0.02, 0.05, 0.05, 0.03, 0.0, 0.02, 0.03,
          0.02, -0.02, -0.08, -0.04, 0.0, 0.03, 0.04, -0.01, -0.05, 0.0, 0.01, 0.0,
          -0.03, -0.06, 0.0, 0.04, 0.01, 0.0, 0.05, 0.04, -0.02, -0.04, 0.05, -0.02,
          -0.03, 0.03, -0.02, 0.0, 0.0, 0.01, 0.04, 0.07, 0.0, -0.05, 0.0, 0.05,
          0.04, 0.0, 0.0, 0.0, 0.02, 0.0, 0.05, -0.05, -0.05, 0.15, -0.02, -0.14,
          -0.16, 0.07, -0.05, -0.11, 0.0, 0.04, 0.07, 0.03, -0.1, -0.13, -0.03, -0.01,
          -0.02]
hsp_20km = [-0.08, -0.03, 0.0, -0.06, -0.02, 0.02, 0.03,
            0.03, 0.01, -0.02, 0.0, 0.0, -0.05, -0.05, 0.04, 0.0, -0.04, -0.03, -0.03,
            -0.06, -0.04, -0.06, -0.06, -0.02, 0.01, -0.02, -0.03, 0.07, -0.01, -0.03, 0.12,
            0.05, -0.04, 0.03, 0.05, -0.02, -0.12, -0.3, -0.33, -0.15, -0.06, -0.12, -0.02,
            0.05, 0.01, 0.0, 0.01, -0.05, 0.0, 0.06, -0.02, -0.05, -0.02, 0.0, -0.1,
            0.03, 0.05, 0.03, 0.03, 0.02, 0.02, 0.04, 0.03, 0.03, -0.02, -0.05, -0.07,
            0.0, 0.04, 0.03, 0.07, 0.08, 0.04, 0.04, 0.07, -0.02, 0.02, 0.04, 0.03,
            0.03, 0.06, 0.0, -0.06, -0.05, -0.02, 0.02, 0.01, 0.02, 0.08, 0.09, 0.0,
            -0.02, -0.02, 0.02, 0.09, 0.0, 0.07, 0.03, 0.02, 0.04, -0.01, -0.04, -0.06,
            -0.02, 0.02, -0.01, -0.02, 0.07, 0.0, 0.0, 0.05, -0.01, 0.01, 0.03, 0.11,
            0.05, -0.04, -0.08, -0.05, -0.05, 0.03, 0.1, 0.05, -0.01, 0.0, 0.05, -0.05,
            -0.14, -0.05, 0.02, -0.03, 0.07, 0.08, 0.12, 0.08, 0.03, -0.01, -0.01, -0.02,
            -0.03]

# ENSO phases as start / end month and strength class
enso_start = [1, 2, 8, 9, 12, 47, 51, 53, 56, 62, 63, 68, 82, 94, 107, 116, 117, 122,
              129, 134, 137, 140, 142]
enso_end = [2, 5, 9, 12, 15, 49, 53, 56, 62, 63, 64, 72, 88, 101, 109, 117, 122, 124,
            134, 137, 140, 142, 144]
enso_class = ["b2", "b1", "b1", "b2", "b1", "r1", "r1", "r2", "r3", "r2", "r1", "b1", "b1",
              "r1", "r1", "b1", "b2", "b1", "b1", "b2", "b1", "b2", "b1"]
enso_colors = {"b1": "#c9e9ff", "b2": "#a5dcff", "r1": "#ffb0b2", "r2": "#ff8084", "r3": "#ff4d50"}

band_low = [1.8, 1.0, 0.5, -1.0, -1.8, -3.0]
band_high = [3.0, 1.8, 1.0, -0.5, -1.0, -1.8]
band_colors = ["#ff3838", "#ff5a5c", "#ffb0b2", "#c9e9ff", "#90d3ff", "#70c8ff"]

year_labels = ["2011", "2012", "2013", "2014", "2015", "2016", "2017", "2018", "2019", "2020", "2021", "2022"]
label_pos = [2011.535, 2012.53, 2013.486, 2014.548, 2015.563, 2016.57, 2017.554, 2018.563,
             2019.55, 2020.553, 2021.55, 2022.5]
year_ticks = [2012, 2013, 2014, 2015, 2016, 2017, 2018, 2019, 2020, 2021, 2022]

series_names = ["LZ", "CD", "RC", "RS", "JM", "20km"]
# legend text sits a little further from its key in the source, hence the thin leading spaces
series_labels = ["\u2004LZ", "\u2004CD", "\u2004RC", "\u2004RS", "\u2009JM", "\u200920km"]
series_colors = ["#d7261e", "#fc8d59", "#fee090", "#91bfdb", "#4575b4", "#000000"]

panels = [
    None,
    [chl_lz, chl_cd, chl_rc, chl_rs, chl_jm, chl_20km],
    [tss_lz, tss_cd, tss_rc, tss_rs, tss_jm, tss_20km],
    [pr_lz, pr_cd, pr_rc, pr_rs, pr_jm, pr_20km],
    [hsp_lz, hsp_cd, hsp_rc, hsp_rs, hsp_jm, hsp_20km],
]
# pixel layout of the page
W, H = 2103, 2474
LEFT, RIGHT = 173.4, 1969
tops = [89, 575, 1061, 1551, 2046]
bottoms = [449, 935, 1420, 1910, 2405]
y_ranges = [[-3, 3], [-1.5, 1.0], [-7.5, 15], [-7.5, 12.5], [-0.7, 0.5]]
y_ticks = [[-3, -2, -1, 0, 1, 2, 3], [-1.5, -1, -0.5, 0, 0.5, 1.0], [-5, 0, 5, 10, 15],
           [-5, 0, 5, 10], [-0.6, -0.3, 0, 0.3]]
y_formats = ["d", ".1f", "d", "d", ".1f"]
label_standoff = [-2, 5, -4, 4, 2]
label_shift = [0, 0, 0, -0.045, 0]
titles = ["ONI", "Chl-a(mg/m<sup>3</sup>)", "TSS(g/m<sup>3</sup>)", "Pr(mm)", "HSP(%)"]
title_x = [69, 33, 37, 33, 37]
title_y = [268, 755, 1241, 1732, 2179]

FONT = "Liberation Serif"
FS = 44


def to_x(m):
    return 2011 + np.asarray(m) / 12


fig = go.Figure()

fig.add_trace(go.Scatter(x=to_x(oni_months), y=oni, name="\u2009ONI", mode="lines", xaxis="x", yaxis="y",
                         line=dict(color="#444444", width=5, dash="20px,11px", shape="spline", smoothing=1.0),
                         legend="legend", showlegend=True))
fig.add_trace(go.Scatter(x=to_x(mei_months), y=mei, name="\u2009MEI", mode="lines", xaxis="x", yaxis="y2",
                         line=dict(color="#000000", width=4.5, dash="4px,6px", shape="spline", smoothing=1.0),
                         legend="legend4", showlegend=True))

for r in range(1, 5):
    n = r + 1
    xa = f"x{n}"
    for name, label, color, values in zip(series_names, series_labels, series_colors, panels[r]):
        is_black = name == "20km"
        fig.add_trace(go.Scatter(x=to_x(months), y=values, name=label, mode="lines", xaxis=xa,
                                 yaxis=f"y{2 * n}" if is_black else f"y{2 * n - 1}",
                                 line=dict(color=color, width=6.5 if is_black else 4.5, shape="spline", smoothing=1.0),
                                 legend="legend3" if is_black else "legend2", showlegend=r == 1, legendgroup=name))

layout = {}
shapes = []
annotations = []
for r in range(5):
    n = r + 1
    suffix = "" if n == 1 else str(n)
    y1 = 2 * n - 1
    y2 = 2 * n
    domain = [1 - bottoms[r] / H, 1 - tops[r] / H]
    layout[f"xaxis{suffix}"] = dict(
        domain=[LEFT / W, RIGHT / W], range=[2011 + 1 / 12, 2023], anchor=f"y{y1}",
        tickmode="array", tickvals=[v + label_shift[r] for v in label_pos], ticktext=year_labels,
        ticks="", ticklabelstandoff=label_standoff[r], showgrid=False, zeroline=False,
        tickfont=dict(family=FONT, size=FS, color="black"),
        showline=True, mirror=True, linecolor="black", linewidth=3,
        minor=dict(tickmode="array", tickvals=year_ticks, ticks="inside", ticklen=20,
                   tickwidth=1.5, tickcolor="black", showgrid=False),
    )
    common = dict(domain=domain, range=y_ranges[r], tickmode="array", tickvals=y_ticks[r],
                  tickformat=y_formats[r], ticks="inside", ticklen=20, tickwidth=2.5,
                  tickcolor="#333333" if r == 0 else "black", showgrid=False,
                  ticklabelstandoff=16, tickfont=dict(family=FONT, size=FS, color="black"))
    layout[f"yaxis{'' if y1 == 1 else y1}"] = dict(
        anchor=f"x{suffix}", side="left", zeroline=r > 0, zerolinecolor="#a6a6a6", zerolinewidth=2,
        showline=True, mirror=True, linecolor="#222222", linewidth=2.5, **common)
    layout[f"yaxis{y2}"] = dict(anchor=f"x{suffix}", side="right", overlaying=f"y{'' if y1 == 1 else y1}",
                                zeroline=False, showline=False, **common)

    yref_dom = f"y{'' if y1 == 1 else y1} domain"
    if r == 0:
        for lo, hi, c in zip(band_low, band_high, band_colors):
            shapes.append(dict(type="rect", xref="x domain", yref="y", x0=0, x1=1, y0=lo, y1=hi,
                               fillcolor=c, line_width=0, layer="below"))
    else:
        for s, e, k in zip(enso_start, enso_end, enso_class):
            shapes.append(dict(type="rect", xref=f"x{suffix}", yref=yref_dom, x0=2011 + s / 12, x1=2011 + e / 12,
                               y0=0, y1=1, fillcolor=enso_colors[k], line_width=0, layer="below"))
    annotations.append(dict(text=titles[r], xref="paper", yref="paper", x=title_x[r] / W, y=1 - title_y[r] / H,
                            xanchor="center", yanchor="middle", textangle=-90, showarrow=False,
                            font=dict(family=FONT, size=FS, color="black")))

annotations.append(dict(text="MEI", xref="paper", yref="paper", x=2078 / W, y=1 - 268 / H,
                        xanchor="center", yanchor="middle", textangle=-90, showarrow=False,
                        font=dict(family=FONT, size=FS, color="black")))

legend_common = dict(orientation="h", yanchor="middle", y=1 - 26 / H, xanchor="left", itemwidth=104,
                     bgcolor="rgba(0,0,0,0)", font=dict(family=FONT, size=FS, color="black"),
                     itemclick=False, itemdoubleclick=False, traceorder="normal",
                     entrywidthmode="pixels")

fig.update_layout(
    width=W, height=H, margin=dict(l=0, r=0, t=0, b=0, autoexpand=False), paper_bgcolor="white",
    plot_bgcolor="white", shapes=shapes, annotations=annotations, showlegend=True,
    legend=dict(x=246 / W, **legend_common),
    legend4=dict(x=450 / W, **legend_common),
    legend2=dict(x=704 / W, entrywidth=79, **legend_common),
    legend3=dict(x=1689 / W, **legend_common),
    **layout,
)

fig.write_html("out.html", post_script="document.body.style.margin='0';")
